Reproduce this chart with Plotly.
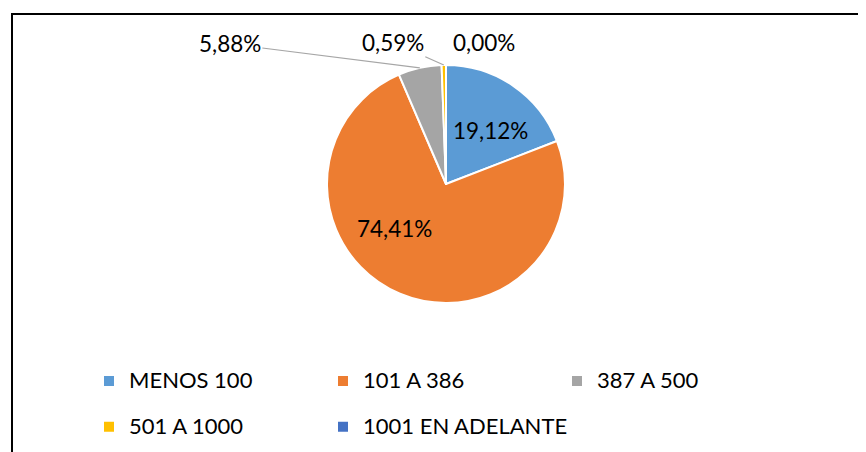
import math
import plotly.graph_objects as go

categories = ["MENOS 100", "101 A 386", "387 A 500", "501 A 1000", "1001 EN ADELANTE"]
values = [19.12, 74.41, 5.88, 0.59, 0.00]
colors = ["#5B9BD5", "#ED7D31", "#A5A5A5", "#FFC000", "#4472C4"]
label_mode = ["free", "free", "outside", "outside", "outside"]
# pixel offsets of labels relative to their anchors (layout only)
label_offsets = {0: (44, -54), 1: (-52, 44), 2: (-190, -24), 3: (-51, -23), 4: (38, -23)}
label_arrow = {0: False, 1: False, 2: True, 3: True, 4: False}

W, H = 866, 452
OFF = 8  # page body margin of the browser
FONT = "Lato, 'Open Sans', sans-serif"
cx, cy, r = 446 - OFF, 184 - OFF, 119


def px(x):
    return x / W


def py(y):
    return (H - y) / H


fmt = lambda v: ("%.2f%%" % v).replace(".", ",")

fig = go.Figure()
fig.add_trace(go.Pie(
    labels=['<span style="font-size:22px;baseline-shift:6px">%s</span>' % c for c in categories],
    values=values,
    sort=False,
    direction="clockwise",
    rotation=0,
    marker=dict(colors=colors, line=dict(color="white", width=2)),
    textinfo="none",
    hoverinfo="label+value",
    domain=dict(x=[px(cx - r), px(cx + r)], y=[py(cy + r), py(cy - r)]),
))

total = sum(values)
annotations = []
cum = 0.0
for i, v in enumerate(values):
    mid = (cum + v / 2) / total * 2 * math.pi
    cum += v
    ox, oy = label_offsets[i]
    if label_mode[i] == "outside":
        tx = cx + r * math.sin(mid)
        ty = cy - r * math.cos(mid)
    else:
        tx, ty = cx, cy
    annotations.append(dict(
        x=px(tx), y=py(ty), xref="paper", yref="paper",
        text=fmt(v), showarrow=True, arrowhead=0, arrowwidth=1.2,
        arrowcolor="#A6A6A6" if label_arrow[i] else "rgba(0,0,0,0)",
        ax=ox, ay=oy, standoff=0,
        font=dict(family=FONT, size=22.5, color="#000000"),
    ))

fig.update_layout(
    width=W, height=H,
    margin=dict(l=0, r=0, t=0, b=0, autoexpand=False),
    paper_bgcolor="white",
    plot_bgcolor="white",
    separators=",.",
    font=dict(family=FONT, color="#000000"),
    showlegend=True,
    annotations=annotations,
    legend=dict(
        orientation="h",
        x=px(109 - OFF - 20), xanchor="left",
        y=py(353 - OFF), yanchor="top",
        entrywidth=189, entrywidthmode="pixels",
        font=dict(family=FONT, size=33, color="#000000"),
        bgcolor="rgba(0,0,0,0)",
        traceorder="normal",
    ),
    shapes=[dict(
        type="rect", xref="paper", yref="paper",
        x0=px(12 - OFF), x1=1.05, y0=-0.05, y1=py(14 - OFF),
        line=dict(color="#000000", width=2),
        fillcolor="rgba(0,0,0,0)", layer="above",
    )],
)

fig.write_html("out.html")
